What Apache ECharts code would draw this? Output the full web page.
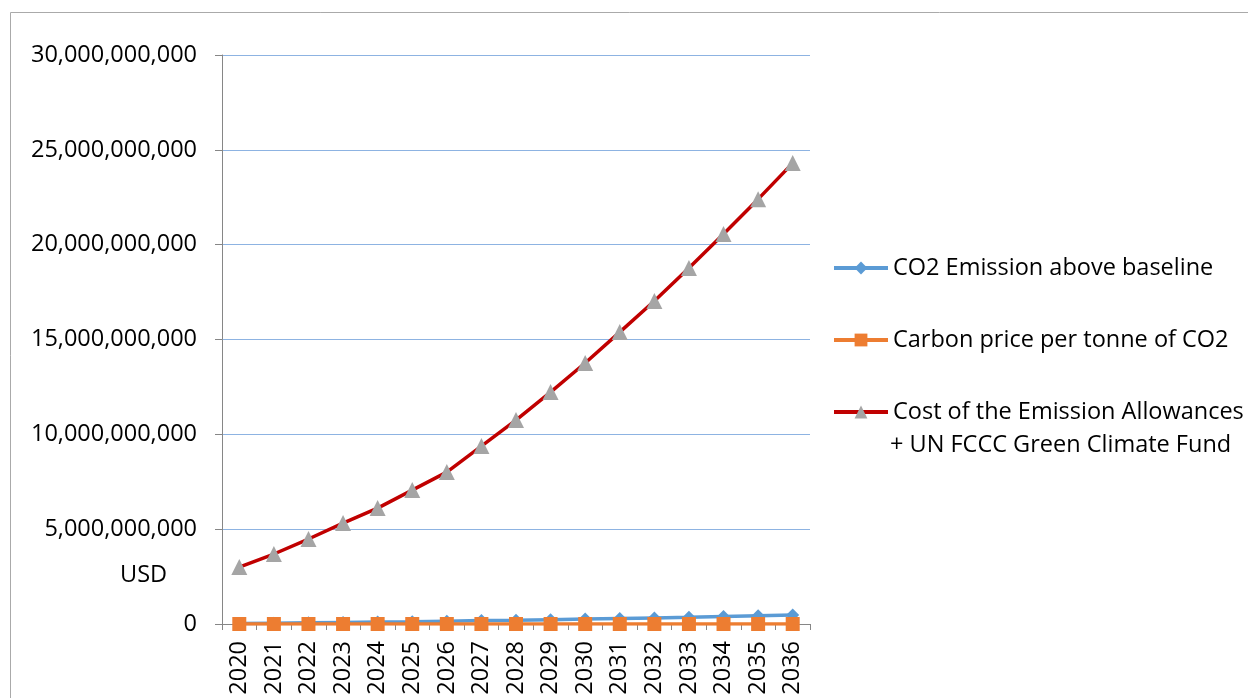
<!DOCTYPE html>
<html><head><meta charset="utf-8">
<script src="https://cdn.jsdelivr.net/npm/echarts@6/dist/echarts.min.js"></script>
<style>html,body{margin:0;padding:0;background:#fff}#c{width:1248px;height:698px}</style>
</head><body><div id="c"></div>
<script>
const years = ['2020','2021','2022','2023','2024','2025','2026','2027','2028','2029','2030','2031','2032','2033','2034','2035','2036'];
const co2Emission = [20e6,40e6,60e6,80e6,100e6,120e6,150e6,180e6,200e6,230e6,260e6,290e6,320e6,350e6,390e6,430e6,470e6];
const carbonPrice = [10,12,14,16,18,20,22,24,26,28,30,32,34,36,38,40,42];
const costAllowances = [3.0e9,3.69e9,4.48e9,5.32e9,6.11e9,7.06e9,8.01e9,9.38e9,10.75e9,12.23e9,13.76e9,15.39e9,17.03e9,18.77e9,20.56e9,22.40e9,24.30e9];
const seriesNames = ['CO2 Emission above baseline','Carbon price per tonne of CO2','Cost of the Emission Allowances\n+ UN FCCC Green Climate Fund'];
const yTicks = {min:0, max:30e9, interval:5e9};
const unitLabel = 'USD';

const font = '"Open Sans", "Liberation Sans", sans-serif';
const fs = 23.5;
const chart = echarts.init(document.getElementById('c'), null, {renderer:'canvas'});
const extraLine = seriesNames[2].split('\n').slice(1).join('\n');
chart.setOption({
  animation:false,
  backgroundColor:'#fff',
  grid:{left:222, top:55, right:438, bottom:74, containLabel:false},
  graphic:[
    {type:'rect', shape:{x:10.5,y:12.5,width:1260,height:700}, style:{fill:'none', stroke:'#aaaaaa', lineWidth:1}},
    {type:'text', left:120, top:563, style:{text:unitLabel, font:fs+'px '+font, fill:'#000'}},
    {type:'text', left:890, top:433, style:{text:extraLine, font:fs+'px '+font, fill:'#000'}}
  ],
  legend:{
    orient:'vertical', left:832, top:252, padding:0, itemGap:40, itemWidth:54, itemHeight:16,
    lineStyle:{width:4},
    textStyle:{fontSize:fs, fontFamily:font, color:'#000', lineHeight:32},
    formatter:name=>name.split('\n')[0],
    data:seriesNames
  },
  xAxis:{
    type:'category', data:years, boundaryGap:true,
    axisLine:{lineStyle:{color:'#868686'}},
    axisTick:{show:true, length:6, lineStyle:{color:'#868686'}},
    axisLabel:{rotate:90, fontSize:fs, fontFamily:font, color:'#000', margin:17}
  },
  yAxis:{
    type:'value', min:yTicks.min, max:yTicks.max, interval:yTicks.interval,
    axisLine:{show:true, lineStyle:{color:'#868686'}},
    axisTick:{show:true, length:7, lineStyle:{color:'#868686'}},
    splitLine:{lineStyle:{color:'#8db3e2', width:1}},
    axisLabel:{fontSize:fs, fontFamily:font, color:'#000', margin:25,
      formatter:v=>v.toLocaleString('en-US')}
  },
  series:[
    {name:seriesNames[0], type:'line', data:co2Emission, symbol:'diamond', symbolSize:13,
      lineStyle:{color:'#5b9bd5', width:3.5}, itemStyle:{color:'#5b9bd5'}},
    {name:seriesNames[1], type:'line', data:carbonPrice, symbol:'rect', symbolSize:14,
      lineStyle:{color:'#ed7d31', width:3.5}, itemStyle:{color:'#ed7d31'}},
    {name:seriesNames[2], type:'line', data:costAllowances, symbol:'triangle', symbolSize:16,
      lineStyle:{color:'#c00000', width:3.5}, itemStyle:{color:'#a5a5a5'}}
  ]
});
</script></body></html>
